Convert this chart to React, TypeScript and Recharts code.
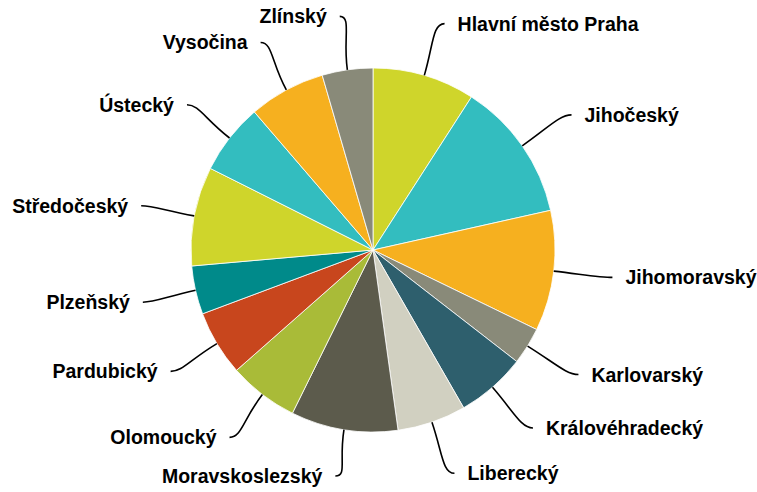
import React from 'react';
import { PieChart, Pie, Cell } from 'recharts';

const regions = [
  'Hlavní město Praha',
  'Jihočeský',
  'Jihomoravský',
  'Karlovarský',
  'Královéhradecký',
  'Liberecký',
  'Moravskoslezský',
  'Olomoucký',
  'Pardubický',
  'Plzeňský',
  'Středočeský',
  'Ústecký',
  'Vysočina',
  'Zlínský',
];

const shares = [9.1, 12.4, 10.7, 3.3, 6.2, 6.1, 9.5, 6.2, 5.8, 4.3, 8.8, 6.3, 6.8, 4.5];

const palette = [
  '#cfd52b', '#33bdbf', '#f6b01f', '#898a79', '#2e5f6d',
  '#d1d0c1', '#5c5b4c', '#a9bb38', '#c8461d', '#008a8a',
];

const chartData = regions.map((name, i) => ({ name, value: shares[i] }));

const RAD = Math.PI / 180;

interface LabelProps {
  cx?: number;
  cy?: number;
  midAngle?: number;
  outerRadius?: number;
  name?: string;
}

const CurvedLabel = ({ cx = 0, cy = 0, midAngle = 0, outerRadius = 0, name }: LabelProps) => {
  const cos = Math.cos(-midAngle * RAD);
  const sin = Math.sin(-midAngle * RAD);
  const right = cos >= 0;
  const dir = right ? 1 : -1;
  const sx = cx + outerRadius * cos;
  const sy = cy + outerRadius * sin;
  const mx = cx + (outerRadius + 32) * cos;
  const my = cy + (outerRadius + 32) * sin;
  // right-hand labels are spread a bit wider in the original
  const ex = cx + (outerRadius + 54) * cos + (right ? 5 : 0);
  // bottom labels sit a little closer to the pie
  const ey = Math.min(cy + (outerRadius + 54) * sin, cy + outerRadius + 44);
  const path = `M${sx},${sy} C${mx},${my} ${ex - dir * 12},${ey} ${ex},${ey}`;
  return (
    <g>
      <path d={path} stroke="#000" strokeWidth={1.6} fill="none" />
      <text
        x={ex + dir * 13}
        y={ey}
        textAnchor={right ? 'start' : 'end'}
        dominantBaseline="central"
        fill="#000"
        style={{ fontFamily: '"Liberation Sans", Arial, sans-serif', fontWeight: 700, fontSize: 19.5 }}
      >
        {name}
      </text>
    </g>
  );
};

const App = () => {
  return (
    <div style={{ position: 'absolute', left: 0, top: 0, width: 757, height: 492, background: '#fff' }}>
      <PieChart width={757} height={492} margin={{ top: 0, right: 0, bottom: 0, left: 0 }}>
        <Pie
          data={chartData}
          dataKey="value"
          nameKey="name"
          cx={373}
          cy={250}
          outerRadius={182}
          startAngle={90}
          endAngle={-270}
          stroke="#ffffff"
          strokeWidth={0.8}
          label={<CurvedLabel />}
          labelLine={false}
          isAnimationActive={false}
        >
          {chartData.map((d, i) => (
            <Cell key={d.name} fill={palette[i % palette.length]} />
          ))}
        </Pie>
      </PieChart>
    </div>
  );
};

export default App;
